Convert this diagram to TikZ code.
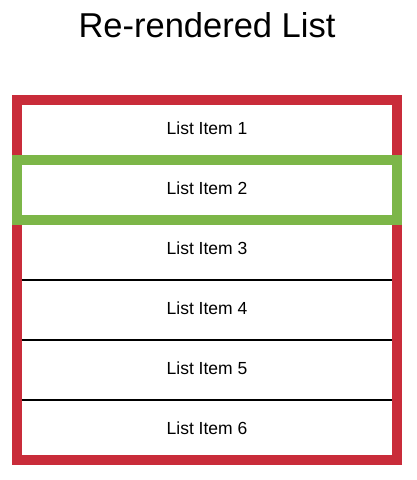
\documentclass[tikz,border=0pt]{standalone}
\usepackage{fontspec}
\setmainfont{Liberation Sans}
\definecolor{listred}{RGB}{201,44,58}
\definecolor{listgreen}{RGB}{124,182,72}
\begin{document}
\begin{tikzpicture}[x=1pt, y=-1pt,
  itemtext/.style={font=\fontsize{17.5}{21}\selectfont, inner sep=0pt},
  titletext/.style={font=\fontsize{34.5}{40}\selectfont, inner sep=0pt}]

\useasboundingbox (0,0) rectangle (416,480);

% Title
\path 
(207,25) node [titletext] (title) {Re-rendered List};


% Items
\path 
(207,128) node [itemtext] (item1) {List Item 1};
\path 
(207,188) node [itemtext] (item2) {List Item 2};
\path 
(207,248) node [itemtext] (item3) {List Item 3};
\path 
(207,308) node [itemtext] (item4) {List Item 4};
\path 
(207,368) node [itemtext] (item5) {List Item 5};
\path 
(207,428) node [itemtext] (item6) {List Item 6};


% Row separators
\draw[black, line width=2pt] (22,280) -- (392,280) ;
\draw[black, line width=2pt] (22,340) -- (392,340) ;
\draw[black, line width=2pt] (22,400) -- (392,400) ;


% Whole list
\draw[listred, line width=10pt] (17,100) rectangle (397,460);

% Re-rendered item
\draw[listgreen, line width=10pt] (17,160) rectangle (397,220);


\end{tikzpicture}
\end{document}
